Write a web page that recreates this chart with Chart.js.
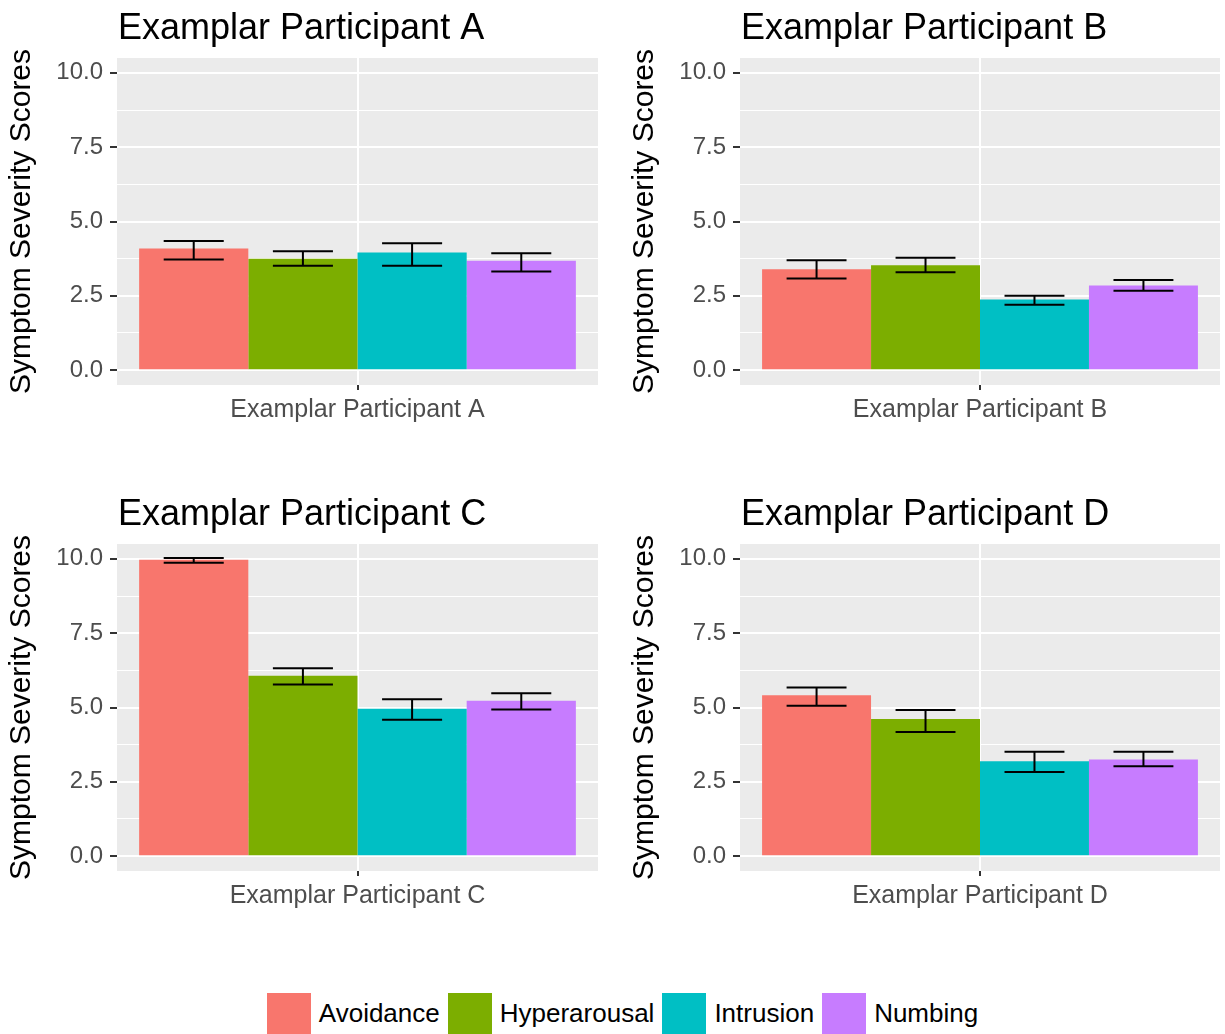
<!DOCTYPE html>
<html>
<head>
<meta charset="utf-8">
<script src="https://cdn.jsdelivr.net/npm/chart.js@4"></script>
<style>
  html, body { margin: 0; padding: 0; background: #ffffff; }
  body { width: 1225px; height: 1034px; position: relative; overflow: hidden;
         font-family: "Liberation Sans", Arial, sans-serif; }
  .panel { position: absolute; }
  .legend { position: absolute; left: 10px; top: 992px; width: 1225px; height: 42px;
            display: flex; justify-content: center; align-items: center; }
  .item { display: flex; align-items: center; margin: 0 4px; }
  .key { width: 44px; height: 41px; margin-right: 8px; }
  .lab { font-size: 26px; color: #000; }
</style>
</head>
<body>
<div class="panel" style="left:0px;top:0px"><canvas id="cA" width="612" height="440"></canvas></div>
<div class="panel" style="left:623px;top:0px"><canvas id="cB" width="602" height="440"></canvas></div>
<div class="panel" style="left:0px;top:486px"><canvas id="cC" width="612" height="440"></canvas></div>
<div class="panel" style="left:623px;top:486px"><canvas id="cD" width="602" height="440"></canvas></div>
<div class="legend" id="legend"></div>
<script>
// ---------- data ----------
const participants = ['Examplar Participant A', 'Examplar Participant B', 'Examplar Participant C', 'Examplar Participant D'];
const symptoms = ['Avoidance', 'Hyperarousal', 'Intrusion', 'Numbing'];
const symptomColors = ['#F8766D', '#7CAE00', '#00BFC4', '#C77CFF'];

// mean scores, one value per participant (A, B, C, D)
const avoidance    = [4.09, 3.39, 9.97, 5.41];
const hyperarousal = [3.75, 3.53, 6.07, 4.61];
const intrusion    = [3.96, 2.38, 4.96, 3.19];
const numbing      = [3.68, 2.85, 5.23, 3.25];

// error bar limits
const avoidanceLow     = [3.72, 3.08, 9.87, 5.06];
const avoidanceHigh    = [4.34, 3.70, 10.03, 5.67];
const hyperarousalLow  = [3.51, 3.29, 5.77, 4.18];
const hyperarousalHigh = [4.00, 3.78, 6.32, 4.92];
const intrusionLow     = [3.51, 2.20, 4.59, 2.83];
const intrusionHigh    = [4.27, 2.50, 5.28, 3.51];
const numbingLow       = [3.32, 2.67, 4.93, 3.02];
const numbingHigh      = [3.93, 3.03, 5.48, 3.51];

const majorTicks = [0, 2.5, 5, 7.5, 10];
const minorTicks = [1.25, 3.75, 6.25, 8.75];
const yAxisTitle = 'Symptom Severity Scores';

// ---------- helpers ----------
const means = [avoidance, hyperarousal, intrusion, numbing];
const lows = [avoidanceLow, hyperarousalLow, intrusionLow, numbingLow];
const highs = [avoidanceHigh, hyperarousalHigh, intrusionHigh, numbingHigh];
const allTicks = majorTicks.concat(minorTicks).sort((a, b) => a - b);
const FONT = '"Liberation Sans", Arial, sans-serif';
const isMajor = v => majorTicks.some(m => Math.abs(m - v) < 1e-9);

const panelBg = {
  id: 'panelBg',
  beforeDraw(chart) {
    const a = chart.chartArea, ctx = chart.ctx;
    ctx.save();
    ctx.fillStyle = '#EBEBEB';
    ctx.fillRect(a.left, a.top, a.right - a.left, a.bottom - a.top);
    ctx.restore();
  }
};

const panelTitle = {
  id: 'panelTitle',
  afterDraw(chart, args, opts) {
    const a = chart.chartArea, ctx = chart.ctx;
    ctx.save();
    ctx.fillStyle = '#000';
    ctx.font = '36px ' + FONT;
    ctx.textAlign = 'left';
    ctx.textBaseline = 'alphabetic';
    ctx.fillText(opts.text, a.left + 1, a.top - 19);
    ctx.restore();
  }
};

const errorBars = {
  id: 'errorBars',
  afterDatasetsDraw(chart) {
    const ctx = chart.ctx, y = chart.scales.y;
    ctx.save();
    ctx.strokeStyle = '#000';
    ctx.lineWidth = 2;
    chart.data.datasets.forEach((ds, i) => {
      const meta = chart.getDatasetMeta(i);
      meta.data.forEach((bar, j) => {
        const x = bar.x, hw = bar.width * 0.275;
        const yl = y.getPixelForValue(ds.errLow[j]);
        const yh = y.getPixelForValue(ds.errHigh[j]);
        ctx.beginPath();
        ctx.moveTo(x - hw, yh); ctx.lineTo(x + hw, yh);
        ctx.moveTo(x - hw, yl); ctx.lineTo(x + hw, yl);
        ctx.moveTo(x, yh); ctx.lineTo(x, yl);
        ctx.stroke();
      });
    });
    ctx.restore();
  }
};

function makeChart(canvasId, p, padRight) {
  const datasets = symptoms.map((s, i) => ({
    label: s,
    data: [means[i][p]],
    errLow: [lows[i][p]],
    errHigh: [highs[i][p]],
    backgroundColor: symptomColors[i],
    borderWidth: 0,
    categoryPercentage: 0.908,
    barPercentage: 1.0
  }));
  return new Chart(document.getElementById(canvasId), {
    type: 'bar',
    data: { labels: [participants[p]], datasets },
    plugins: [panelBg, panelTitle, errorBars],
    options: {
      responsive: false,
      animation: false,
      devicePixelRatio: 1,
      layout: { padding: { top: 58, left: 0, right: padRight, bottom: 0 } },
      plugins: {
        legend: { display: false },
        tooltip: { enabled: false },
        panelTitle: { text: participants[p] }
      },
      scales: {
        x: {
          offset: true,
          grid: { offset: false, color: '#FFFFFF', lineWidth: 2, tickColor: '#333333', tickLength: 5, tickWidth: 2 },
          border: { display: false },
          ticks: { color: '#4D4D4D', font: { size: 25, family: FONT }, padding: 5 },
          afterFit(s) { s.height = 55; }
        },
        y: {
          min: -0.5,
          max: 10.5,
          afterBuildTicks(s) { s.ticks = allTicks.map(v => ({ value: v })); },
          grid: {
            color: '#FFFFFF',
            lineWidth: c => (c.tick && isMajor(c.tick.value)) ? 2 : 1,
            tickColor: c => (c.tick && isMajor(c.tick.value)) ? '#333333' : 'rgba(0,0,0,0)',
            tickLength: 7,
            tickWidth: 2
          },
          border: { display: false },
          ticks: {
            autoSkip: false,
            color: '#4D4D4D',
            font: { size: 24, family: FONT },
            padding: 7,
            callback: v => isMajor(v) ? Number(v).toFixed(1) : ''
          },
          title: {
            display: true,
            text: yAxisTitle,
            color: '#000000',
            font: { size: 30, family: FONT },
            padding: { top: 4, bottom: 0 }
          },
          afterFit(s) { s.width = 117; }
        }
      }
    }
  });
}

makeChart('cA', 0, 14);
makeChart('cB', 1, 5);
makeChart('cC', 2, 14);
makeChart('cD', 3, 5);

// legend
const legend = document.getElementById('legend');
symptoms.forEach((s, i) => {
  const item = document.createElement('div');
  item.className = 'item';
  const key = document.createElement('div');
  key.className = 'key';
  key.style.background = symptomColors[i];
  const lab = document.createElement('span');
  lab.className = 'lab';
  lab.textContent = s;
  item.appendChild(key);
  item.appendChild(lab);
  legend.appendChild(item);
});
</script>
</body>
</html>
